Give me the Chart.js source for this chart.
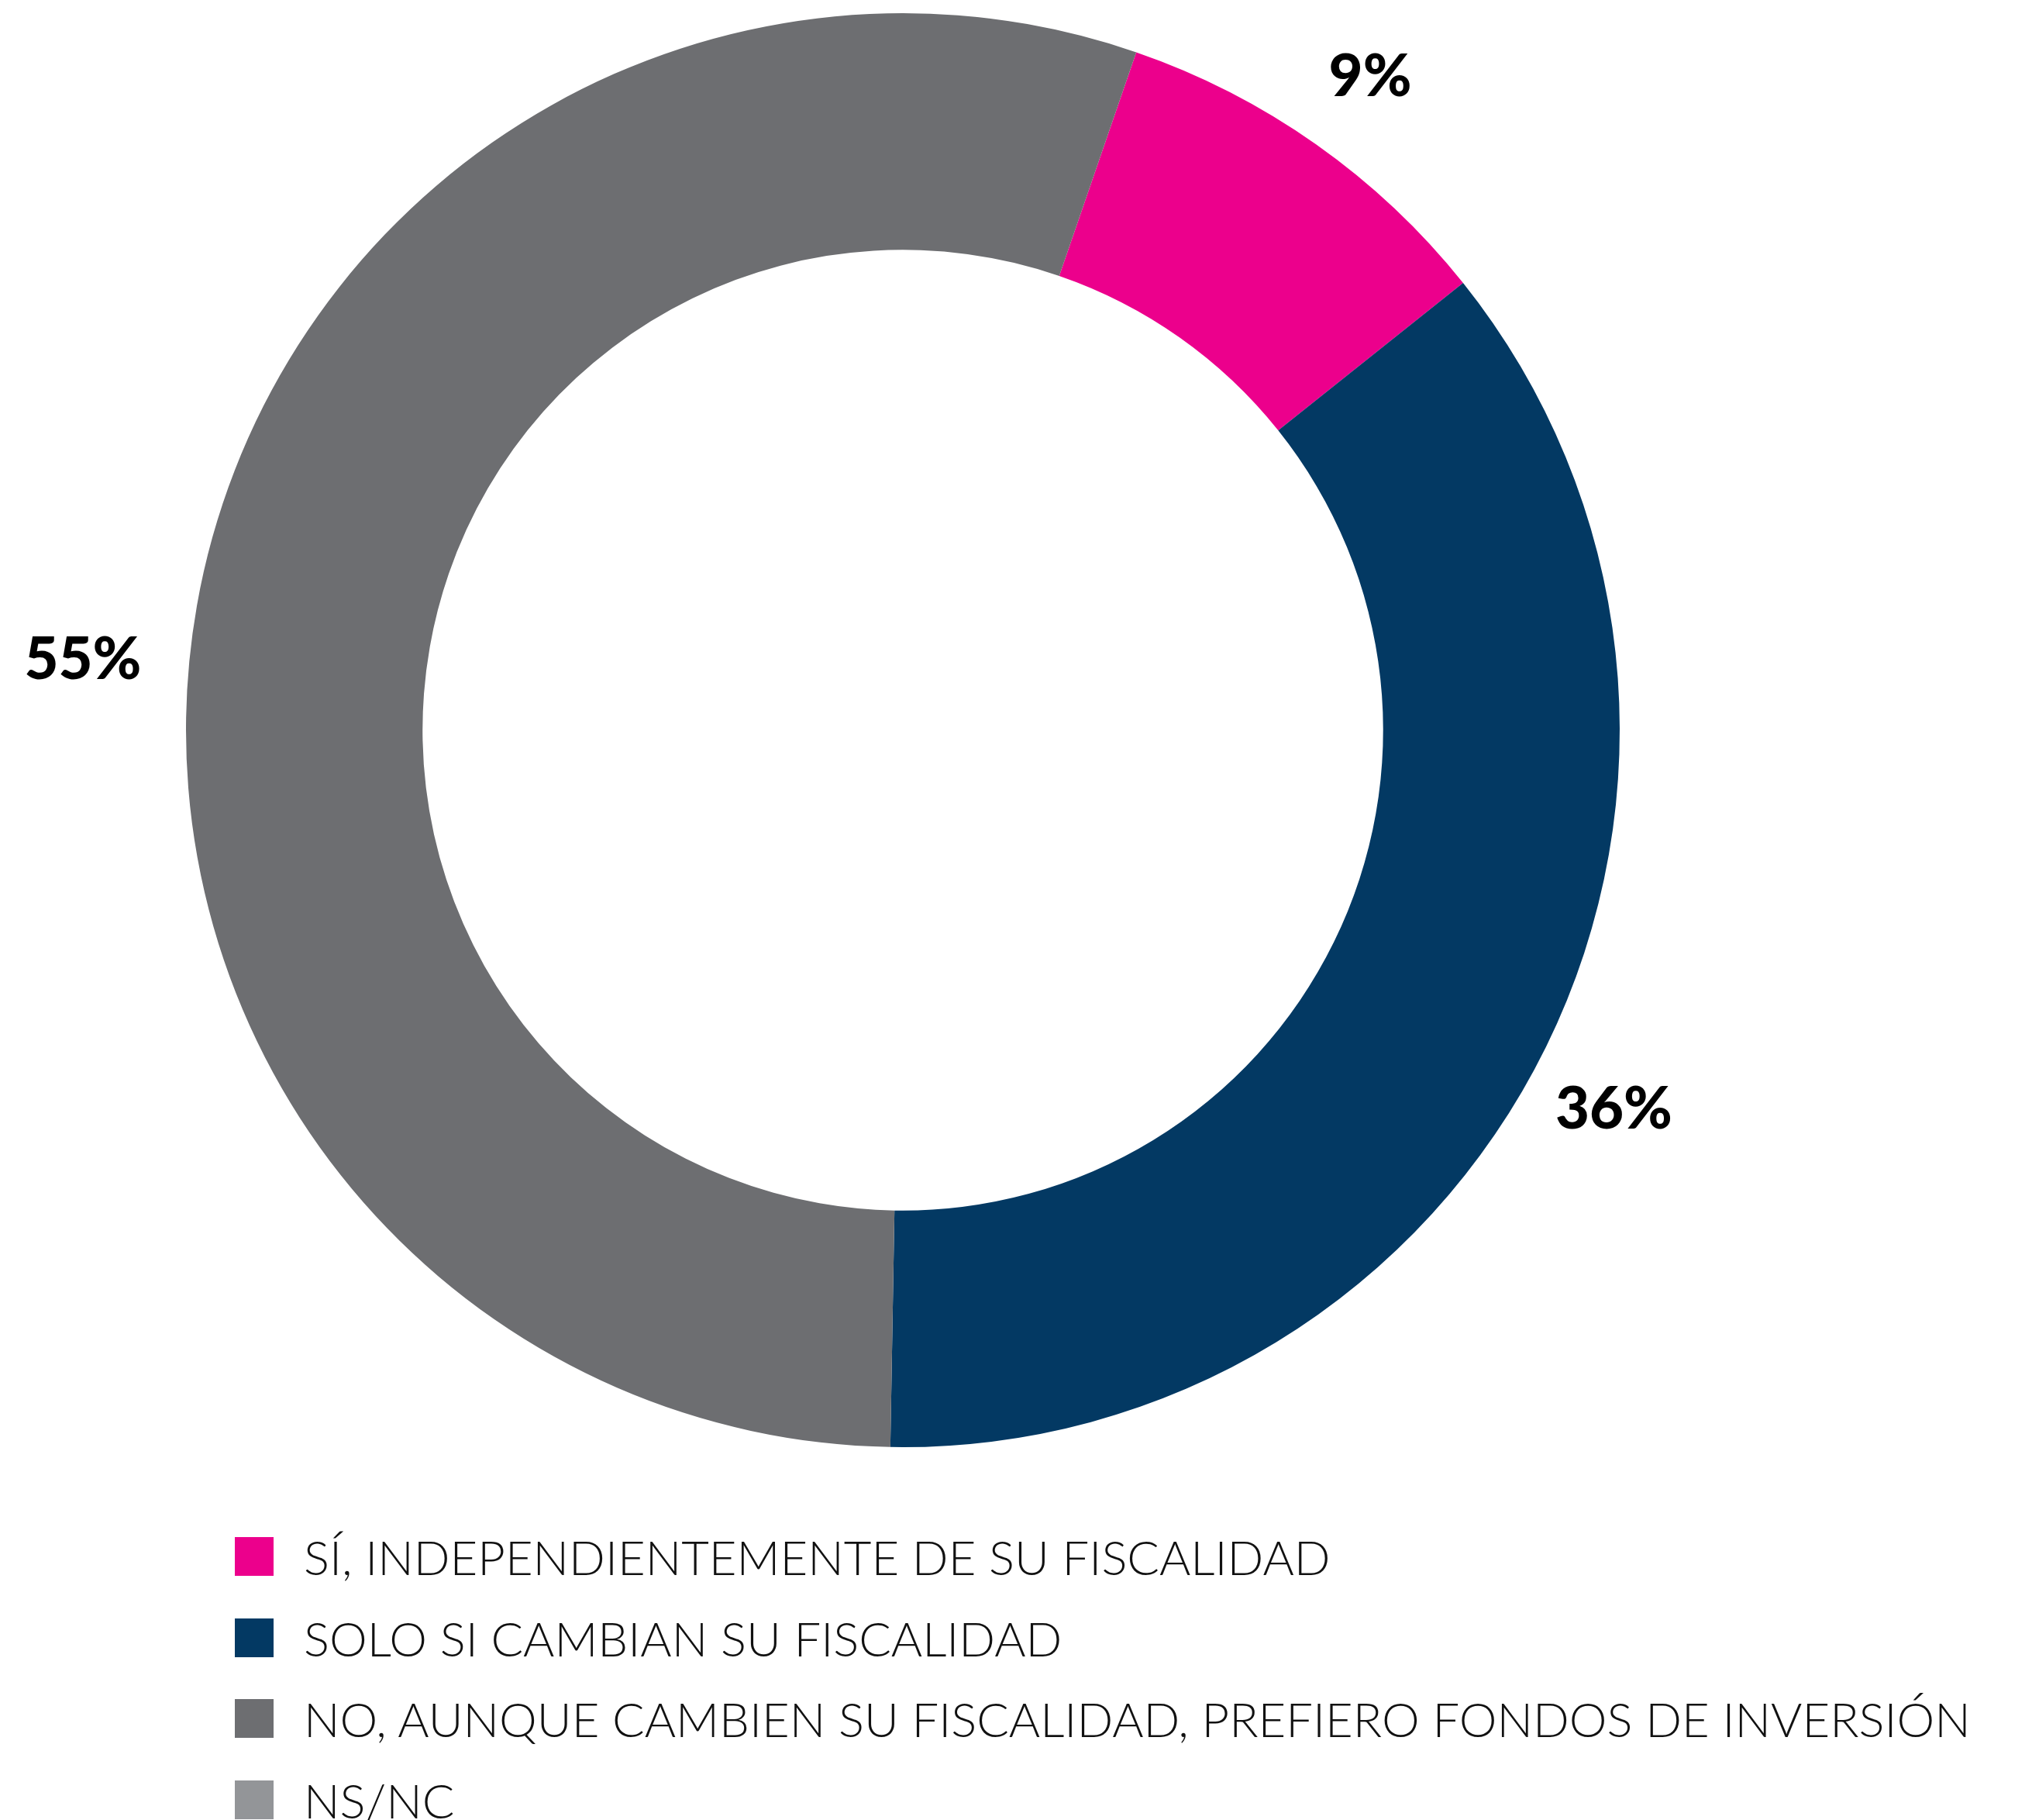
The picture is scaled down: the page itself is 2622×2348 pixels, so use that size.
<!DOCTYPE html>
<html>
<head>
<meta charset="utf-8">
<script src="https://cdn.jsdelivr.net/npm/chart.js@4.4.1/dist/chart.umd.min.js"></script>
<style>
  html, body { margin: 0; padding: 0; background: #fff; }
  body { width: 2622px; height: 2348px; position: relative; overflow: hidden; }
  #chart { position: absolute; left: 0; top: 0; }
  #legend { position: absolute; left: 303px; top: 1956px; margin: 0; padding: 0; list-style: none; }
  #legend li { height: 104.5px; display: flex; align-items: center; }
  #legend .box { width: 50px; height: 50px; margin-right: 39px; flex: none; }
  #legend .txt { font-family: "Lato", sans-serif; font-weight: 300; font-size: 61.6px; color: #111; white-space: nowrap; }
</style>
</head>
<body>
<canvas id="chart" width="2622" height="1900"></canvas>
<ul id="legend"></ul>
<script>
const categories = [
  'SÍ, INDEPENDIENTEMENTE DE SU FISCALIDAD',
  'SOLO SI CAMBIAN SU FISCALIDAD',
  'NO, AUNQUE CAMBIEN SU FISCALIDAD, PREFIERO FONDOS DE INVERSIÓN',
  'NS/NC'
];
const values = [9, 36, 55, 0];
const colors = ['#ec008c', '#033963', '#6d6e71', '#939598'];

// percent labels outside the ring
const outerLabels = {
  id: 'outerLabels',
  afterDatasetsDraw(chart, args, opts) {
    const ctx = chart.ctx;
    const meta = chart.getDatasetMeta(0);
    ctx.save();
    ctx.font = '900 76px "Lato", sans-serif';
    ctx.fillStyle = '#000';
    ctx.textAlign = 'center';
    ctx.textBaseline = 'middle';
    meta.data.forEach((arc, i) => {
      if (!values[i]) return;
      const adj = opts.adjust[i] || [0, 110];
      const mid = (arc.startAngle + arc.endAngle) / 2 + adj[0] * Math.PI / 180;
      const r = arc.outerRadius + adj[1];
      ctx.fillText(values[i] + '%', arc.x + Math.cos(mid) * r, arc.y + Math.sin(mid) * r);
    });
    ctx.restore();
  }
};

const chart = new Chart(document.getElementById('chart'), {
  type: 'doughnut',
  data: {
    labels: categories,
    datasets: [{
      data: values,
      backgroundColor: colors,
      borderWidth: 0
    }]
  },
  options: {
    responsive: false,
    animation: false,
    rotation: 19,
    cutout: '67%',
    layout: { padding: { left: 240, right: 532, top: 17, bottom: 33 } },
    plugins: {
      legend: { display: false },
      tooltip: { enabled: false },
      // [angle shift in degrees, distance outside the ring]
      outerLabels: { adjust: [[0.4, 111], [1.9, 115], [-5.1, 137]] }
    }
  },
  plugins: [outerLabels]
});

const ul = document.getElementById('legend');
categories.forEach((c, i) => {
  const li = document.createElement('li');
  li.innerHTML = '<span class="box" style="background:' + colors[i] + '"></span><span class="txt"></span>';
  li.querySelector('.txt').textContent = c;
  ul.appendChild(li);
});
</script>
</body>
</html>
